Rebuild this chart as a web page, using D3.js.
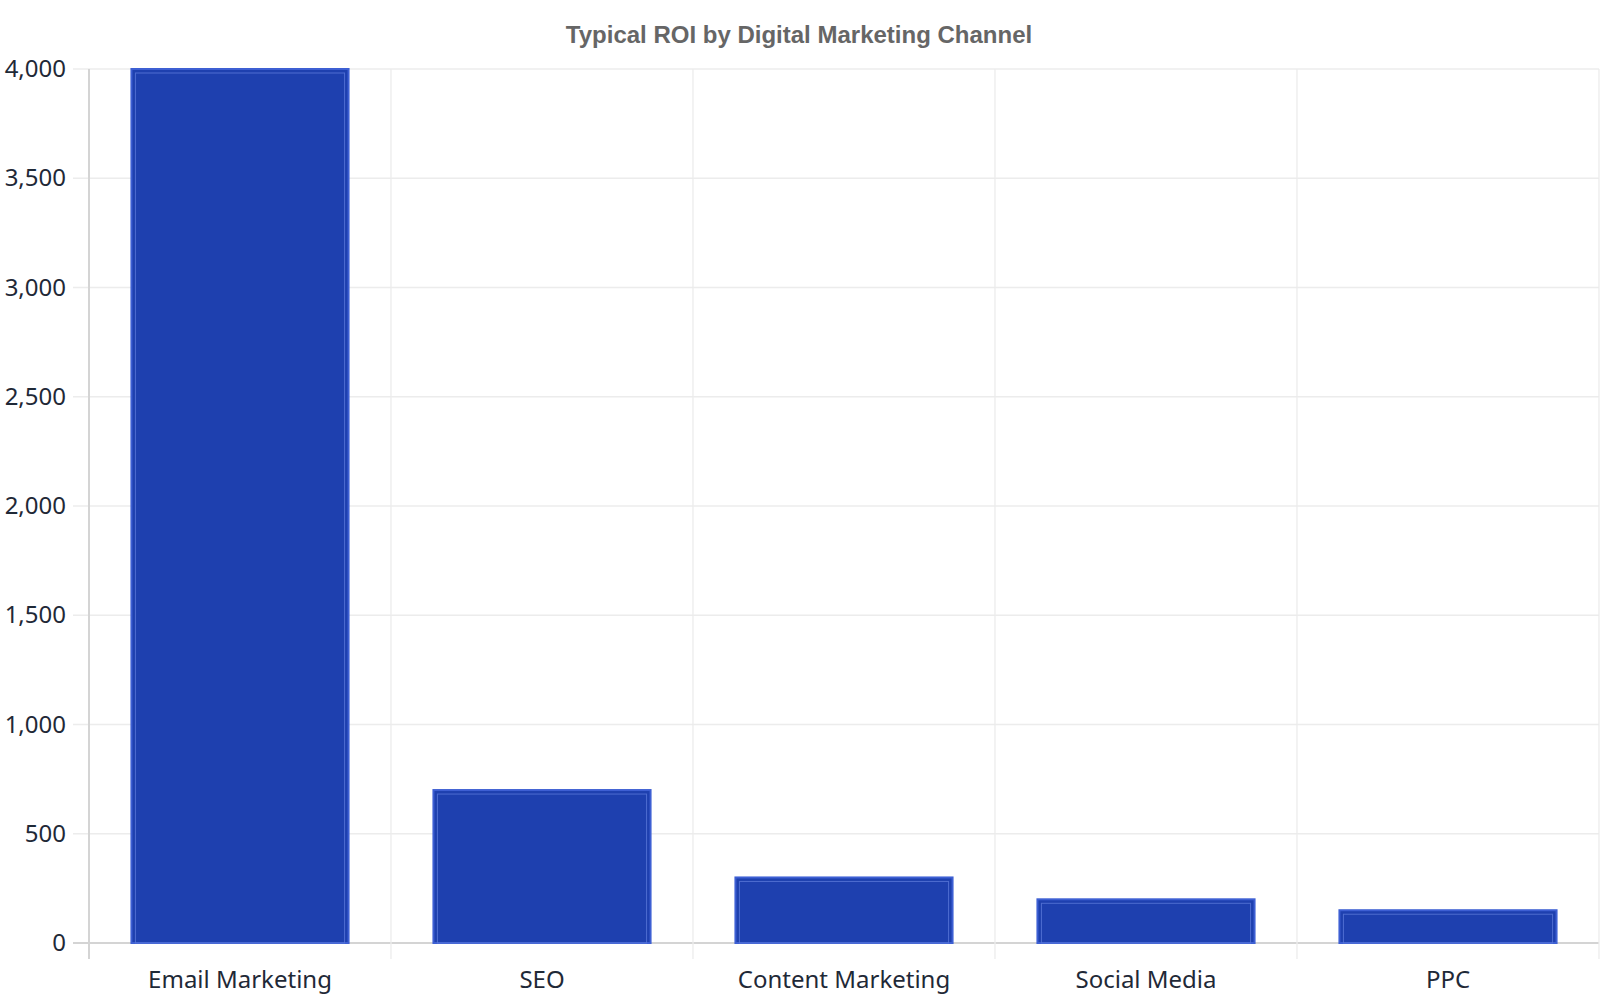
<!DOCTYPE html>
<html>
<head>
<meta charset="utf-8">
<script src="https://cdn.jsdelivr.net/npm/d3@7"></script>
<style>
  body { margin: 0; background: #fff; }
  svg { display: block; }
</style>
</head>
<body>
<svg id="chart" width="1600" height="1000"></svg>
<script>
// data
const channels = ['Email Marketing', 'SEO', 'Content Marketing', 'Social Media', 'PPC'];
const roiValues = [4000, 700, 300, 200, 150];
const yTicks = [0, 500, 1000, 1500, 2000, 2500, 3000, 3500, 4000];

const margin = { top: 69, right: 1, bottom: 57, left: 89 };
const W = 1600, H = 1000;

const svg = d3.select('#chart');

const x = d3.scaleBand()
  .domain(channels)
  .range([margin.left, W - margin.right])
  .paddingInner(0.281)
  .paddingOuter(0.1405);

const y = d3.scaleLinear()
  .domain([0, 4000])
  .range([H - margin.bottom, margin.top]);

// title
svg.append('text')
  .attr('x', 799)
  .attr('y', 43)
  .attr('text-anchor', 'middle')
  .attr('font-family', 'Liberation Sans, Arial, sans-serif')
  .attr('font-weight', 'bold')
  .attr('font-size', 24)
  .attr('fill', '#666')
  .text('Typical ROI by Digital Marketing Channel');

// horizontal grid
svg.append('g')
  .selectAll('line')
  .data(yTicks)
  .join('line')
  .attr('x1', margin.left - 16)
  .attr('x2', W - margin.right)
  .attr('y1', d => y(d))
  .attr('y2', d => y(d))
  .attr('stroke', d => d === 0 ? '#d4d4d4' : '#ececec')
  .attr('stroke-width', d => d === 0 ? 2 : 1.3);

// vertical grid at band boundaries
const step = x.step();
const bounds = d3.range(channels.length + 1).map(i => margin.left + i * step);
svg.append('g')
  .selectAll('line')
  .data(bounds)
  .join('line')
  .attr('x1', d => d)
  .attr('x2', d => d)
  .attr('y1', margin.top)
  .attr('y2', H - margin.bottom + 16)
  .attr('stroke', (d, i) => i === 0 ? '#d4d4d4' : '#ececec')
  .attr('stroke-width', (d, i) => i === 0 ? 2 : 1.3);

// y axis labels
const yAxis = d3.axisLeft(y).tickValues(yTicks).tickSize(0).tickPadding(23).tickFormat(d3.format(','));
svg.append('g')
  .attr('transform', `translate(${margin.left},0)`)
  .call(yAxis)
  .call(g => g.select('.domain').remove())
  .selectAll('text')
  .attr('font-family', 'Noto Sans, sans-serif')
  .attr('font-size', 24)
  .attr('fill', '#1f2937');

// x axis labels
const xAxis = d3.axisBottom(x).tickSize(0).tickPadding(28);
svg.append('g')
  .attr('transform', `translate(0,${H - margin.bottom})`)
  .call(xAxis)
  .call(g => g.select('.domain').remove())
  .selectAll('text')
  .attr('font-family', 'Noto Sans, sans-serif')
  .attr('font-size', 24)
  .attr('fill', '#1f2937');

// bars
const bars = svg.append('g')
  .selectAll('g')
  .data(channels.map((c, i) => ({ c, v: roiValues[i] })))
  .join('g');

bars.append('rect')
  .attr('x', d => x(d.c))
  .attr('y', d => y(d.v))
  .attr('width', x.bandwidth())
  .attr('height', d => y(0) - y(d.v))
  .attr('fill', '#1e40af')
  .attr('stroke', '#3d5fd3')
  .attr('stroke-width', 2);

bars.append('rect')
  .attr('x', d => x(d.c) + 4)
  .attr('y', d => y(d.v) + 4)
  .attr('width', x.bandwidth() - 8)
  .attr('height', d => Math.max(0, y(0) - y(d.v) - 4))
  .attr('fill', 'none')
  .attr('stroke', '#5a78d8')
  .attr('stroke-width', 1)
  .attr('stroke-opacity', 0.8);
</script>
</body>
</html>
